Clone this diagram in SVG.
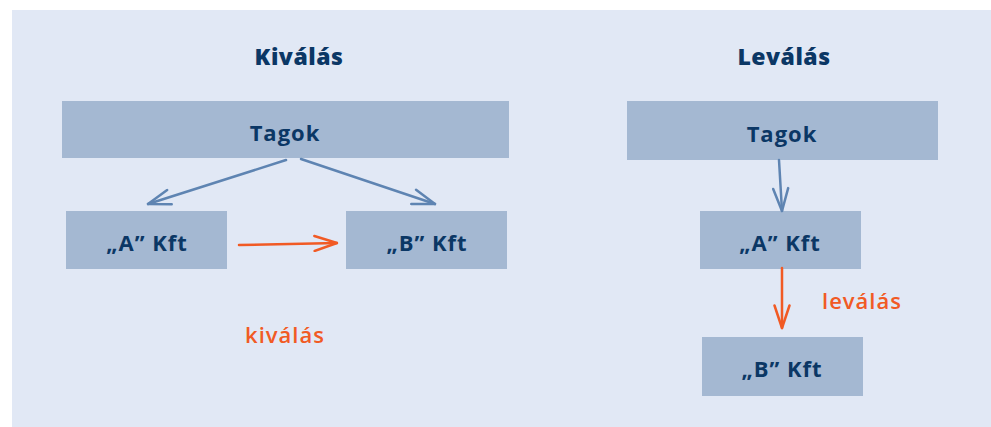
<svg xmlns="http://www.w3.org/2000/svg" width="991" height="427" viewBox="0 0 991 427">
<defs>
<style>
.box{fill:#a4b8d2}
.lbl{font-family:"Open Sans","Noto Sans",sans-serif;font-weight:700;font-size:22px;fill:#0b3765;text-anchor:middle;letter-spacing:1px}
.ttl{font-family:"Open Sans","Noto Sans",sans-serif;font-weight:800;font-size:23px;fill:#0b3765;text-anchor:middle;letter-spacing:0.5px}
.org{font-family:"Open Sans","Noto Sans",sans-serif;font-weight:600;font-size:22px;fill:#f15a24;text-anchor:middle;letter-spacing:1px}
.blue{stroke:#5e84b2;stroke-width:2.5;fill:none;stroke-linecap:round}
.red{stroke:#f15a24;stroke-width:2.5;fill:none;stroke-linecap:round}
</style>
<marker id="ab" viewBox="0 0 26 18" refX="24.5" refY="9" markerWidth="26" markerHeight="18" markerUnits="userSpaceOnUse" orient="auto"><path d="M2,1.5 L24.5,9 L2,16.5" fill="none" stroke="#5e84b2" stroke-width="2.5" stroke-linecap="round" stroke-linejoin="round"/></marker>
<marker id="ao" viewBox="0 0 26 18" refX="24.5" refY="9" markerWidth="26" markerHeight="18" markerUnits="userSpaceOnUse" orient="auto"><path d="M2,1.5 L24.5,9 L2,16.5" fill="none" stroke="#f15a24" stroke-width="2.5" stroke-linecap="round" stroke-linejoin="round"/></marker>
</defs>
<rect x="12" y="10" width="979" height="417" fill="#e1e8f5"/>
<text class="ttl" x="299" y="65">Kiválás</text>
<text class="ttl" x="784" y="65">Leválás</text>
<g id="tagok-left"><rect class="box" x="62" y="101" width="447" height="57"/><text class="lbl" x="285" y="141">Tagok</text></g>
<g id="a-left"><rect class="box" x="66" y="211" width="161" height="58"/><text class="lbl" x="147" y="251">„A” Kft</text></g>
<g id="b-left"><rect class="box" x="346" y="211" width="161" height="58"/><text class="lbl" x="427" y="251">„B” Kft</text></g>
<g id="tagok-right"><rect class="box" x="627" y="101" width="311" height="59"/><text class="lbl" x="782" y="142">Tagok</text></g>
<g id="a-right"><rect class="box" x="700" y="211" width="161" height="58"/><text class="lbl" x="780" y="251">„A” Kft</text></g>
<g id="b-right"><rect class="box" x="702" y="337" width="161" height="59"/><text class="lbl" x="782" y="377">„B” Kft</text></g>
<g id="connectors">
<line class="blue" x1="286" y1="160" x2="148" y2="204" marker-end="url(#ab)"/>
<line class="blue" x1="301" y1="159" x2="435" y2="204" marker-end="url(#ab)"/>
<line class="red" x1="239" y1="245" x2="337" y2="243" marker-end="url(#ao)"/>
<line class="blue" x1="779" y1="160" x2="782" y2="211" marker-end="url(#ab)"/>
<line class="red" x1="782" y1="268" x2="782" y2="328" marker-end="url(#ao)"/>
</g>
<text class="org" x="285" y="343">kiválás</text>
<text class="org" x="862" y="309">leválás</text>
</svg>
